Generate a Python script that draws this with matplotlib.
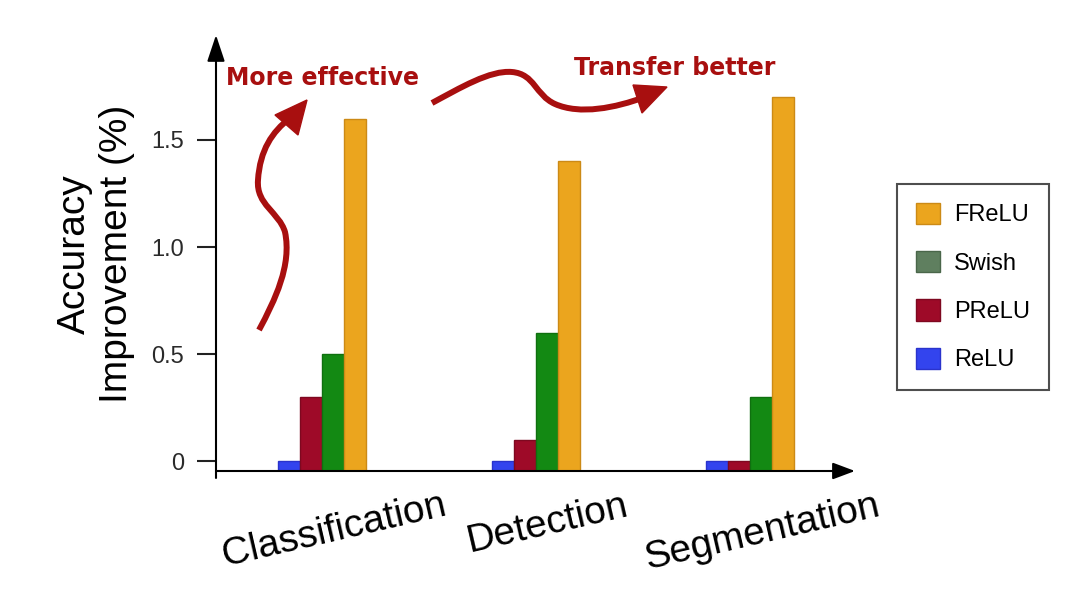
import numpy as np
import matplotlib
matplotlib.use('Agg')
import matplotlib.pyplot as plt
import matplotlib.transforms as mtransforms
from matplotlib.path import Path
from matplotlib.patches import PathPatch, Polygon, Patch

plt.rcParams['font.family'] = ['Liberation Sans', 'DejaVu Sans']

# data
tasks = ['Classification', 'Detection', 'Segmentation']
relu = [0.0, 0.0, 0.0]
prelu = [0.3, 0.1, 0.0]
swish = [0.5, 0.6, 0.3]
frelu = [1.6, 1.4, 1.7]
yticks = [0, 0.5, 1.0, 1.5]
ytick_labels = ['0', '0.5', '1.0', '1.5']

W, H = 1083, 594
fig = plt.figure(figsize=(W / 100, H / 100), dpi=100)
ax = fig.add_axes([216 / W, 1 - 471 / H, 639 / W, 436 / H])

base = -0.045
x = np.arange(len(tasks))
bw = 0.102
series = [
    (relu, '#3344ee', '#2a33cc'),
    (prelu, '#9e0a28', '#7e0820'),
    (swish, '#138913', '#0f700f'),
    (frelu, '#eba51e', '#cc8a16'),
]
for i, (vals, fc, ec) in enumerate(series):
    ax.bar(x + (i - 1.5) * bw, np.array(vals) - base, bw, bottom=base,
           color=fc, edgecolor=ec, linewidth=1.0, zorder=3)

ax.set_xlim(-0.495, 2.49)
ax.set_ylim(base, 1.99)
for s in ax.spines.values():
    s.set_visible(False)

ax.set_yticks(yticks)
ax.set_yticklabels(ytick_labels)
ax.tick_params(axis='y', length=14, width=1.5, pad=9, labelsize=17,
               labelcolor='#2a2a2a', color='#222222')
ax.set_xticks(x)
ax.set_xticklabels(tasks, rotation=13, ha='center', fontsize=28)
ax.tick_params(axis='x', length=0, pad=12)
shift = mtransforms.ScaledTranslation(12 / 100, 0, fig.dpi_scale_trans)
for lab in ax.get_xticklabels():
    lab.set_transform(lab.get_transform() + shift)

# axis arrows
ax.annotate('', xy=(0, 1), xytext=(0, -0.016), xycoords='axes fraction',
            arrowprops=dict(arrowstyle='-|>,head_length=0.9,head_width=0.3',
                            color='black', lw=1.5,
                            mutation_scale=18, shrinkA=0, shrinkB=0))
ax.annotate('', xy=(1, 0), xytext=(0, 0), xycoords='axes fraction',
            arrowprops=dict(arrowstyle='-|>,head_length=0.8,head_width=0.3',
                            color='black', lw=1.5,
                            mutation_scale=17, shrinkA=0, shrinkB=0))

fig.text(96 / W, 1 - 254 / H, 'Accuracy\nImprovement (%)', rotation=90,
         ha='center', va='center', fontsize=28, multialignment='center')

# legend
handles = [Patch(facecolor='#eba51e', edgecolor='#cc8a16', label='FReLU'),
           Patch(facecolor='#5f7f5f', edgecolor='#4a664a', label='Swish'),
           Patch(facecolor='#9e0a28', edgecolor='#7e0820', label='PReLU'),
           Patch(facecolor='#3344ee', edgecolor='#2a33cc', label='ReLU')]
leg = fig.legend(handles=handles, loc='center left',
                 bbox_to_anchor=(897 / W, 1 - 287 / H), fontsize=17,
                 frameon=True, fancybox=False, handlelength=1.0,
                 handleheight=1.0, labelspacing=1.05, handletextpad=0.6,
                 borderpad=0.8, borderaxespad=0)
leg.get_frame().set_edgecolor('#222222')
leg.get_frame().set_linewidth(1.5)

# hand-drawn style annotations (pixel coordinates)
px = mtransforms.Affine2D().scale(1 / W, -1 / H).translate(0, 1) + fig.transFigure
red = '#a80f0f'
C4 = Path.CURVE4
p1 = Path([(259, 330), (275, 300), (292, 265), (285, 232),
           (279, 212), (256, 205), (258, 180),
           (260, 150), (272, 132), (290, 118)],
          [Path.MOVETO, C4, C4, C4, C4, C4, C4, C4, C4, C4])
p2 = Path([(432, 103), (460, 88), (490, 70), (512, 72),
           (535, 74), (535, 95), (555, 104),
           (580, 115), (615, 108), (645, 97)],
          [Path.MOVETO, C4, C4, C4, C4, C4, C4, C4, C4, C4])
heads = [[(275, 115), (298, 135), (307, 100)],
         [(633, 85), (642, 113), (667, 87)]]
for p, hd in zip((p1, p2), heads):
    fig.add_artist(PathPatch(p, transform=px, fill=False, lw=4.3,
                             edgecolor=red, capstyle='butt'))
    fig.add_artist(Polygon(hd, closed=True, transform=px, facecolor=red,
                           edgecolor=red, lw=1))

fig.text(323 / W, 1 - 78 / H, 'More effective', color=red, fontsize=17,
         fontweight='bold', family='DejaVu Sans', ha='center', va='center')
fig.text(675 / W, 1 - 68 / H, 'Transfer better', color=red, fontsize=17,
         fontweight='bold', family='DejaVu Sans', ha='center', va='center')

fig.savefig('out.png', dpi=100)
